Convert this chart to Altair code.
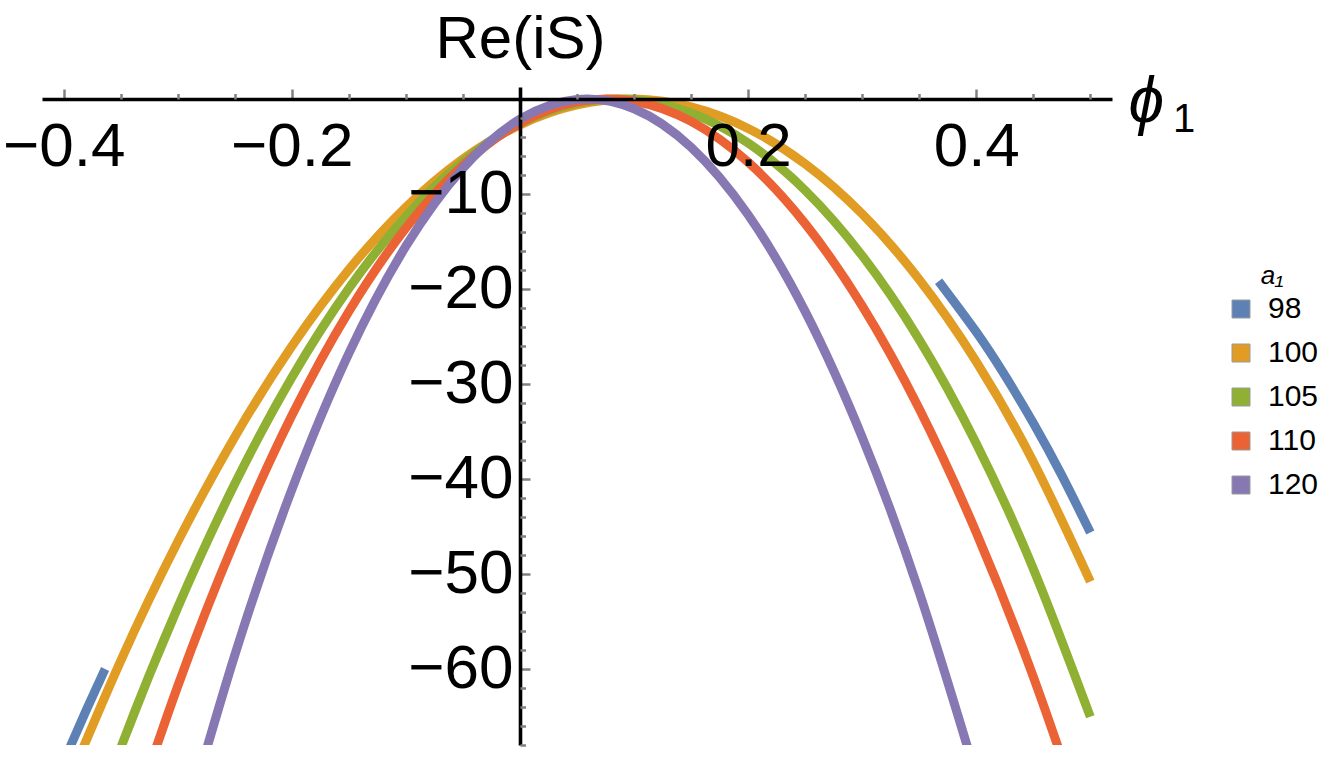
import altair as alt
import pandas as pd

FONT = "Liberation Sans"

# a1 parameter values and their series colours
A1_LEVELS = ["98", "100", "105", "110", "120"]
A1_COLORS = ["#5E81B5", "#E19C24", "#8FB032", "#EB6235", "#8778B3"]

# a1 = 98: the real part only exists on two separate branches
phi_98_left = [-0.42, -0.40, -0.38, -0.3637]
reis_98_left = [-75.44, -69.75, -64.28, -60.0]
phi_98_right = [0.367, 0.40, 0.425, 0.45, 0.475, 0.50]
reis_98_right = [-19.18, -24.52, -29.08, -34.11, -39.62, -45.64]

# a1 = 100
phi_100 = [-0.40, -0.35, -0.30, -0.25, -0.20, -0.15, -0.10, -0.05, 0.00, 0.05,
           0.10, 0.15, 0.20, 0.25, 0.30, 0.35, 0.40, 0.45, 0.50]
reis_100 = [-73.17, -59.14, -46.61, -35.57, -26.02, -17.96, -11.39, -6.31, -2.72, -0.62,
            -0.01, -0.84, -3.10, -6.83, -12.10, -19.00, -27.64, -38.19, -50.80]

# a1 = 105
phi_105 = [-0.40, -0.35, -0.30, -0.25, -0.20, -0.15, -0.10, -0.05, 0.00, 0.05,
           0.10, 0.15, 0.20, 0.25, 0.30, 0.35, 0.40, 0.45, 0.50]
reis_105 = [-84.92, -68.31, -53.51, -40.51, -29.32, -19.94, -12.36, -6.58, -2.61, -0.44,
            -0.08, -1.48, -4.64, -9.62, -16.49, -25.33, -36.26, -49.44, -65.03]

# a1 = 110
phi_110 = [-0.35, -0.30, -0.25, -0.20, -0.15, -0.10, -0.05, 0.00, 0.05,
           0.10, 0.15, 0.20, 0.25, 0.30, 0.35, 0.40, 0.45, 0.50]
reis_110 = [-79.31, -61.80, -46.48, -33.33, -22.37, -13.58, -6.98, -2.55, -0.31,
            -0.24, -2.36, -6.65, -13.12, -21.78, -32.61, -45.63, -60.82, -78.20]

# a1 = 120
phi_120 = [-0.30, -0.25, -0.20, -0.15, -0.10, -0.05, 0.00, 0.05,
           0.10, 0.15, 0.20, 0.25, 0.30, 0.35, 0.40]
reis_120 = [-79.00, -58.53, -41.12, -26.78, -15.50, -7.28, -2.13, -0.05,
            -1.03, -5.08, -12.19, -22.36, -35.60, -51.91, -71.28]

# axis ticks
X_MAJOR = [-0.4, -0.2, 0.2, 0.4]
X_MINOR = [-0.35, -0.3, -0.25, -0.15, -0.1, -0.05, 0.05, 0.1, 0.15, 0.25, 0.3, 0.35, 0.45, 0.5]
Y_MAJOR = [-60, -50, -40, -30, -20, -10]
Y_MINOR = [-68, -66, -64, -62, -58, -56, -54, -52, -48, -46, -44, -42, -38, -36, -34, -32,
           -28, -26, -24, -22, -18, -16, -14, -12, -8, -6, -4, -2]


def branch(phi, reis, a1, seg):
    return pd.DataFrame({"phi": phi, "reis": reis, "a1": a1, "seg": seg})


df = pd.concat([
    branch(phi_98_left, reis_98_left, "98", "98a"),
    branch(phi_98_right, reis_98_right, "98", "98b"),
    branch(phi_100, reis_100, "100", "100"),
    branch(phi_105, reis_105, "105", "105"),
    branch(phi_110, reis_110, "110", "110"),
    branch(phi_120, reis_120, "120", "120"),
], ignore_index=True)

W, H = 1070, 658
x_scale = alt.Scale(domain=[-0.419, 0.519], nice=False, zero=False)
y_scale = alt.Scale(domain=[-68.0, 1.26], nice=False, zero=False)
stroke_scale = alt.Scale(domain=A1_LEVELS, range=A1_COLORS)
fill_scale = alt.Scale(domain=A1_LEVELS, range=A1_COLORS)

# axes cross at the origin
X_OFF = -12          # top-oriented x axis pushed down to reis = 0
Y_OFF = 478 - W      # right-oriented y axis pulled left to phi = 0

tick_common = dict(tickColor="#808080", tickWidth=2.5, zindex=1, grid=False)

x_major = alt.Axis(
    orient="top", offset=X_OFF, values=X_MAJOR, format=".1f",
    tickSize=10, domainColor="black", domainWidth=3.6,
    labelFont=FONT, labelFontSize=62, labelColor="black",
    labelPadding=-76, labelBaseline="alphabetic", labelAlign="center",
    labelFlush=False, labelOverlap=False, labelBound=False,
    title="ϕ", titleFont=FONT, titleFontSize=64, titleFontStyle="italic",
    titleFontWeight="normal", titleColor="black",
    titleX=1086, titleY=22, titleAlign="left", titleBaseline="alphabetic", titleAngle=0,
    **tick_common,
)
y_major = alt.Axis(
    orient="right", offset=Y_OFF, values=Y_MAJOR, format="d",
    tickSize=10, domainColor="black", domainWidth=3.6,
    labelFont=FONT, labelFontSize=62, labelColor="black",
    labelPadding=-17, labelAlign="right", labelBaseline="middle",
    labelFlush=False, labelOverlap=False, labelBound=False,
    title="Re(iS)", titleFont=FONT, titleFontSize=60, titleFontWeight="normal",
    titleColor="black", titleAngle=0, titleX=0, titleY=-30,
    titleAlign="center", titleBaseline="alphabetic",
    **tick_common,
)
x_minor = alt.Axis(orient="top", offset=X_OFF, values=X_MINOR, tickSize=5.5,
                   labels=False, domain=False, title="", **tick_common)
y_minor = alt.Axis(orient="right", offset=Y_OFF, values=Y_MINOR, tickSize=5.5,
                   labels=False, domain=False, title="", **tick_common)

curves = alt.Chart(df).mark_line(
    strokeWidth=9, interpolate="natural", clip=True, strokeCap="butt"
).encode(
    x=alt.X("phi:Q", scale=x_scale, axis=x_major),
    y=alt.Y("reis:Q", scale=y_scale, axis=y_major),
    stroke=alt.Stroke("a1:N", scale=stroke_scale, legend=None),
    detail="seg:N",
)

# carries the minor ticks and the square-swatch legend
swatches = alt.Chart(df).mark_square(opacity=0, clip=True).encode(
    x=alt.X("phi:Q", scale=x_scale, axis=x_minor),
    y=alt.Y("reis:Q", scale=y_scale, axis=y_minor),
    fill=alt.Fill(
        "a1:N", scale=fill_scale,
        legend=alt.Legend(
            orient="none", legendX=1184, legendY=176, padding=0,
            title="a₁", titleFont=FONT, titleFontSize=26, titleFontStyle="italic",
            titleFontWeight="normal", titleColor="black", titleAnchor="middle",
            titlePadding=5,
            labelFont=FONT, labelFontSize=30, labelColor="black", labelOffset=12,
            symbolType="square", symbolSize=324, symbolOpacity=1,
            symbolStrokeColor="#9a9a9a", symbolStrokeWidth=1, rowPadding=14,
        ),
    ),
)

subscript = alt.Chart(pd.DataFrame({"t": ["1"]})).mark_text(
    font=FONT, fontSize=40, align="left", baseline="alphabetic", color="black"
).encode(text="t:N", x=alt.value(1131), y=alt.value(45))

chart = alt.layer(curves, swatches, subscript).resolve_axis(
    x="independent", y="independent"
).resolve_scale(
    stroke="independent", fill="independent"
).properties(
    width=W, height=H,
    padding={"left": 42, "top": 87, "right": 218, "bottom": 12},
    autosize=alt.AutoSizeParams(type="none"),
).configure_view(stroke="transparent")

chart.save("out.html", embed_options={"renderer": "svg", "actions": False})
